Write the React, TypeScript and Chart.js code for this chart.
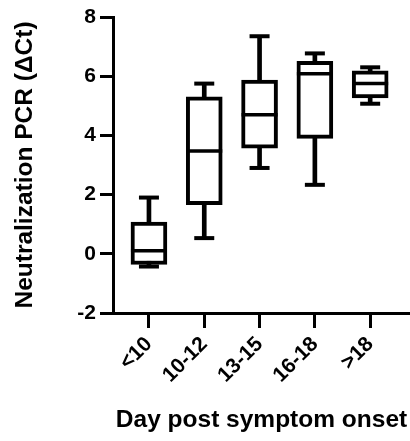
import React, { useEffect, useRef } from "react";
import { Chart, registerables } from "chart.js";

Chart.register(...registerables);

const categories = ["<10", "10-12", "13-15", "16-18", ">18"];
const mins = [-0.43, 0.53, 2.9, 2.33, 5.07];
const q1s = [-0.36, 1.66, 3.57, 3.9, 5.27];
const medians = [0.1, 3.47, 4.7, 6.08, 5.75];
const q3s = [1.07, 5.3, 5.87, 6.5, 6.18];
const maxs = [1.9, 5.75, 7.35, 6.77, 6.3];
const yTicks = [-2, 0, 2, 4, 6, 8];

const FONT = "'Liberation Sans', Arial, sans-serif";

export default function App() {
  const ref = useRef<HTMLCanvasElement | null>(null);
  useEffect(() => {
    if (!ref.current) return;
    const idx = categories.map((_, i) => i);
    const chart = new Chart(ref.current, {
      type: "bar",
      data: {
        datasets: [
          {
            type: "line",
            data: idx.map((i) => ({ x: i, y: medians[i] })),
            showLine: false,
            pointStyle: "line",
            pointRadius: 18,
            pointBorderWidth: 3.5,
            pointBorderColor: "#000",
            pointBackgroundColor: "#000",
            order: 1,
          } as any,
          {
            type: "line",
            data: [
              ...idx.map((i) => ({ x: i, y: mins[i] })),
              ...idx.map((i) => ({ x: i, y: maxs[i] })),
            ],
            showLine: false,
            pointStyle: "line",
            pointRadius: 10,
            pointBorderWidth: 4,
            pointBorderColor: "#000",
            pointBackgroundColor: "#000",
            order: 1,
          } as any,
          {
            type: "bar",
            data: idx.map((i) => ({ x: i, y: [q1s[i], q3s[i]] })),
            backgroundColor: "#fff",
            borderColor: "#000",
            borderWidth: 4,
            borderSkipped: false,
            barThickness: 36,
            grouped: false,
            order: 2,
          } as any,
          {
            type: "bar",
            data: idx.map((i) => ({ x: i, y: [mins[i], maxs[i]] })),
            backgroundColor: "#000",
            borderWidth: 0,
            barThickness: 4,
            grouped: false,
            order: 3,
          } as any,
        ],
      },
      options: {
        responsive: false,
        animation: false,
        layout: { autoPadding: false, padding: { top: 17, right: 0, left: 0, bottom: 0 } },
        plugins: { legend: { display: false }, tooltip: { enabled: false } },
        scales: {
          x: {
            type: "linear",
            offset: false,
            min: -0.65,
            max: 4.72,
            afterBuildTicks: (s: any) => {
              s.ticks = idx.map((v) => ({ value: v }));
            },
            afterFit: (s: any) => {
              s.height = 128;
              s.paddingLeft = 0;
              s.paddingRight = 0;
            },
            grid: {
              display: true,
              offset: false,
              drawOnChartArea: false,
              drawTicks: true,
              tickLength: 15,
              tickWidth: 3,
              tickColor: "#000",
            },
            border: { display: true, width: 3, color: "#000" },
            ticks: {
              autoSkip: false,
              minRotation: 45,
              maxRotation: 45,
              padding: 4,
              color: "#000",
              font: { family: FONT, size: 21, weight: "bold" },
              callback: (v: any) => categories[v as number] ?? "",
            },
            title: {
              display: true,
              text: "Day post symptom onset",
              color: "#000",
              font: { family: FONT, size: 24.5, weight: "bold" },
              padding: { top: 0, bottom: 6 },
            },
          },
          y: {
            type: "linear",
            min: -2,
            max: 8,
            afterBuildTicks: (s: any) => {
              s.ticks = yTicks.map((v) => ({ value: v }));
            },
            afterFit: (s: any) => {
              s.width = 113;
              s.paddingTop = 0;
              s.paddingBottom = 0;
            },
            grid: {
              display: true,
              drawOnChartArea: false,
              drawTicks: true,
              tickLength: 13,
              tickWidth: 3,
              tickColor: "#000",
            },
            border: { display: true, width: 3, color: "#000" },
            ticks: {
              padding: 4,
              color: "#000",
              font: { family: FONT, size: 21, weight: "bold" },
            },
            title: {
              display: true,
              text: "Neutralization PCR (ΔCt)",
              color: "#000",
              font: { family: FONT, size: 24.5, weight: "bold" },
              padding: { top: 11, bottom: 0 },
            },
          },
        },
      },
    });
    return () => chart.destroy();
  }, []);
  return (
    <div style={{ position: "absolute", left: 0, top: 0, width: 410, height: 441, background: "#fff" }}>
      <canvas ref={ref} width={410} height={441} style={{ display: "block" }} />
    </div>
  );
}
